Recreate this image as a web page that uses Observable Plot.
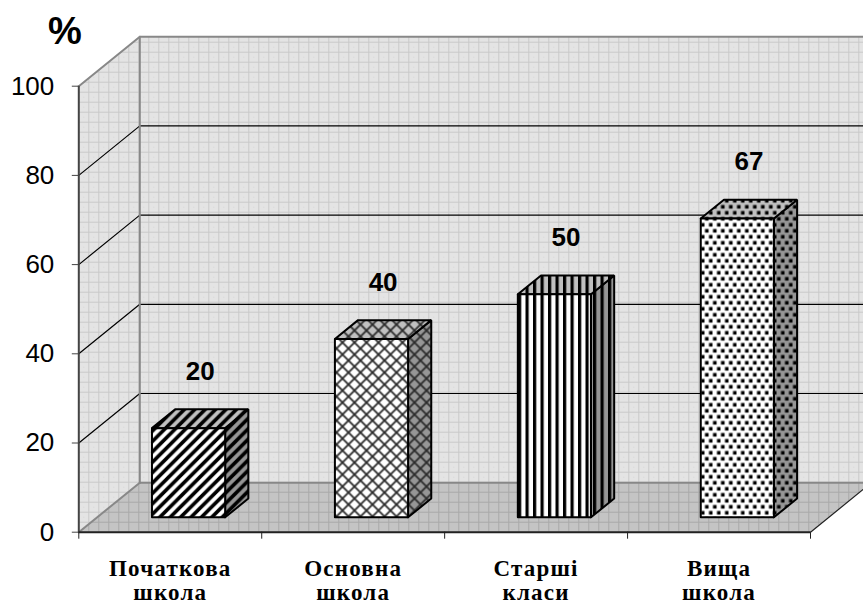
<!DOCTYPE html>
<html>
<head>
<meta charset="utf-8">
<script src="https://cdn.jsdelivr.net/npm/d3@7"></script>
<script src="https://cdn.jsdelivr.net/npm/@observablehq/plot@0.6"></script>
<style>
  html, body { margin: 0; padding: 0; background: #fff; }
  #chart svg { display: block; overflow: hidden; }
</style>
</head>
<body>
<div id="chart"></div>
<script>
// ---- data ----
const categories = ["Початкова\nшкола", "Основна\nшкола", "Старші\nкласи", "Вища\nшкола"];
const values = [20, 40, 50, 67];
const valueLabels = ["20", "40", "50", "67"];
const yTicks = [0, 20, 40, 60, 80, 100];
const gridValues = [20, 40, 60, 80];
const categoryBounds = [0, 1, 2, 3, 4];
const barPatterns = ["diag", "cross", "vert", "dots"];
const unitLabel = "%";

// ---- 3D geometry in data units ----
const DX = 0.3335;   // depth offset along x (category units)
const DY = 11.1;     // depth offset along y (value units)
const Z0 = 0.30;     // bar front depth
const ZD = 0.38;     // bar depth
const BW = 0.40;     // bar width (category units)
const NC = categories.length;

const poly = (pts) => pts.concat([pts[0]]).map(([x, y]) => ({x, y}));

const backWall = poly([[DX, DY], [NC + DX + 0.2, DY], [NC + DX + 0.2, 100 + DY], [DX, 100 + DY]]);
const sideWall = poly([[0, 0], [DX, DY], [DX, 100 + DY], [0, 100]]);
const floor = poly([[0, 0], [NC, 0], [NC + DX, DY], [DX, DY]]);

const bars = values.map((v, i) => {
  const x1 = i + 0.5 - BW / 2 + Z0 * DX, x2 = x1 + BW;
  const b = Z0 * DY, t = v + Z0 * DY;
  const ox = ZD * DX, oy = ZD * DY;
  return {
    i, v,
    front: poly([[x1, b], [x2, b], [x2, t], [x1, t]]),
    side: poly([[x2, b], [x2 + ox, b + oy], [x2 + ox, t + oy], [x2, t]]),
    top: poly([[x1, t], [x2, t], [x2 + ox, t + oy], [x1 + ox, t + oy]]),
    lx: i + 0.5 + (Z0 + ZD / 2) * DX,
    ly: v + (Z0 + ZD / 2) * DY
  };
});

const sans = "'Liberation Sans', Arial, sans-serif";
const serif = "'Liberation Serif', 'Times New Roman', serif";

const marks = [];
// walls & floor
marks.push(Plot.line(backWall, {x: "x", y: "y", fill: "url(#wallPat)", stroke: "none"}));
marks.push(Plot.line(sideWall, {x: "x", y: "y", fill: "url(#wallPat)", stroke: "none"}));
marks.push(Plot.line(floor, {x: "x", y: "y", fill: "url(#floorPat)", stroke: "none"}));
// major gridlines
for (const g of gridValues) {
  marks.push(Plot.line([{x: 0, y: g}, {x: DX, y: g + DY}, {x: NC + DX + 0.2, y: g + DY}],
    {x: "x", y: "y", stroke: "#000", strokeWidth: 1.2}));
}
// wall edges
marks.push(Plot.line([{x: 0, y: 100}, {x: DX, y: 100 + DY}, {x: NC + DX + 0.2, y: 100 + DY}],
  {x: "x", y: "y", stroke: "#888", strokeWidth: 2}));
marks.push(Plot.line([{x: DX, y: DY}, {x: DX, y: 100 + DY}], {x: "x", y: "y", stroke: "#888", strokeWidth: 2}));
marks.push(Plot.line([{x: DX, y: DY}, {x: NC + DX + 0.2, y: DY}], {x: "x", y: "y", stroke: "#888", strokeWidth: 2}));
marks.push(Plot.line([{x: 0, y: 0}, {x: DX, y: DY}], {x: "x", y: "y", stroke: "#888", strokeWidth: 2}));
marks.push(Plot.line([{x: NC, y: 0}, {x: NC + DX, y: DY}], {x: "x", y: "y", stroke: "#222", strokeWidth: 1.2}));
// axes lines
marks.push(Plot.ruleX([0], {y1: 0, y2: 100, stroke: "#444", strokeWidth: 2}));
marks.push(Plot.ruleY([0], {x1: 0, x2: NC, stroke: "#222", strokeWidth: 2}));
marks.push(Plot.axisY({ticks: yTicks, tickSize: 6.5, tickPadding: 18, fontSize: 26, stroke: "#444",
  tickFormat: d => String(d), label: null, fontFamily: sans, fill: "#000"}));
marks.push(Plot.axisX({ticks: categoryBounds, tickSize: 7, tickFormat: () => "", label: null, stroke: "#222"}));
// bars
bars.forEach(b => {
  const p = barPatterns[b.i];
  marks.push(Plot.line(b.side, {x: "x", y: "y", fill: `url(#${p}-side)`, stroke: "#000", strokeWidth: 2, strokeLinejoin: "miter"}));
  marks.push(Plot.line(b.top, {x: "x", y: "y", fill: `url(#${p}-top)`, stroke: "#000", strokeWidth: 2, strokeLinejoin: "miter"}));
  marks.push(Plot.line(b.front, {x: "x", y: "y", fill: `url(#${p}-front)`, stroke: "#000", strokeWidth: 2, strokeLinejoin: "miter"}));
});
// value labels
marks.push(Plot.text(bars, {x: "lx", y: "ly", text: d => valueLabels[d.i], dy: -47, fontSize: 26,
  fontWeight: "bold", fill: "#000", fontFamily: sans}));
// category labels
marks.push(Plot.text(categories, {x: (d, i) => i + 0.5, y: () => 0, text: d => d, lineAnchor: "top", dy: 27,
  fontSize: 23, lineHeight: 1.04, fontWeight: "bold", fill: "#000", fontFamily: serif}));
// unit label
marks.push(Plot.text([unitLabel], {x: () => 0, y: () => 100, text: d => d, dx: -14, dy: -54, fontSize: 38,
  fontWeight: "bold", fill: "#000", fontFamily: sans}));

const chart = Plot.plot({
  width: 863,
  height: 606,
  marginLeft: 78.3,
  marginRight: 53,
  marginTop: 85.7,
  marginBottom: 74.3,
  x: {type: "linear", domain: [0, NC], axis: null},
  y: {type: "linear", domain: [0, 100], axis: null},
  style: {background: "#fff", fontFamily: sans, overflow: "hidden"},
  marks
});

// widen the serif category labels slightly, like the reference
d3.select(chart).selectAll("g[font-family*='Liberation Serif']").attr("letter-spacing", "1.2px");

// ---- SVG pattern definitions ----
const svg = d3.select(chart);
const defs = svg.insert("defs", ":first-child");
function pat(id, w, h, draw, ox = 0, oy = 0) {
  const p = defs.append("pattern").attr("id", id).attr("patternUnits", "userSpaceOnUse")
    .attr("width", w).attr("height", h).attr("x", ox).attr("y", oy);
  draw(p);
}
pat("wallPat", 10, 10, p => {
  p.append("rect").attr("width", 10).attr("height", 10).attr("fill", "#e4e4e4");
  p.append("rect").attr("x", 5).attr("y", 5).attr("width", 1).attr("height", 1).attr("fill", "#d6d6d6");
  p.append("rect").attr("width", 10).attr("height", 1).attr("fill", "#c9c9c9");
  p.append("rect").attr("width", 1).attr("height", 10).attr("fill", "#c9c9c9");
}, 78.3 - 0.5, 531.7 - 0.5);
pat("floorPat", 10, 10, p => {
  p.append("rect").attr("width", 10).attr("height", 10).attr("fill", "#c4c4c4");
  p.append("rect").attr("width", 10).attr("height", 1).attr("fill", "#a8a8a8");
  p.append("rect").attr("width", 1).attr("height", 10).attr("fill", "#a8a8a8");
}, 78.3 - 0.5, 531.7 - 0.5);
const faceBg = {front: "#ffffff", side: "#969696", top: "#c0c0c0"};
for (const [face, bg] of Object.entries(faceBg)) {
  pat(`diag-${face}`, 10.4, 10.4, p => {
    p.append("rect").attr("width", 10.4).attr("height", 10.4).attr("fill", bg);
    p.append("path").attr("d", "M-2,2 L2,-2 M0,10.4 L10.4,0 M8.4,12.4 L12.4,8.4").attr("stroke", "#000").attr("stroke-width", 3.6);
  });
  pat(`cross-${face}`, 12, 12, p => {
    p.append("rect").attr("width", 12).attr("height", 12).attr("fill", bg);
    p.append("path").attr("d", "M0,0 L12,12 M12,0 L0,12").attr("stroke", "#2a2a2a").attr("stroke-width", 1.8);
  });
  pat(`vert-${face}`, 7.5, 10, p => {
    p.append("rect").attr("width", 7.5).attr("height", 10).attr("fill", bg);
    p.append("rect").attr("width", 3.2).attr("height", 10).attr("fill", "#000");
  });
  pat(`dots-${face}`, 8, 12, p => {
    p.append("rect").attr("width", 8).attr("height", 12).attr("fill", bg);
    p.append("rect").attr("x", 0.5).attr("y", 0.5).attr("width", 3.6).attr("height", 3.6).attr("fill", "#000");
    p.append("rect").attr("x", 4.5).attr("y", 6.5).attr("width", 3.6).attr("height", 3.6).attr("fill", "#000");
  });
}

document.getElementById("chart").appendChild(chart);
</script>
</body>
</html>
